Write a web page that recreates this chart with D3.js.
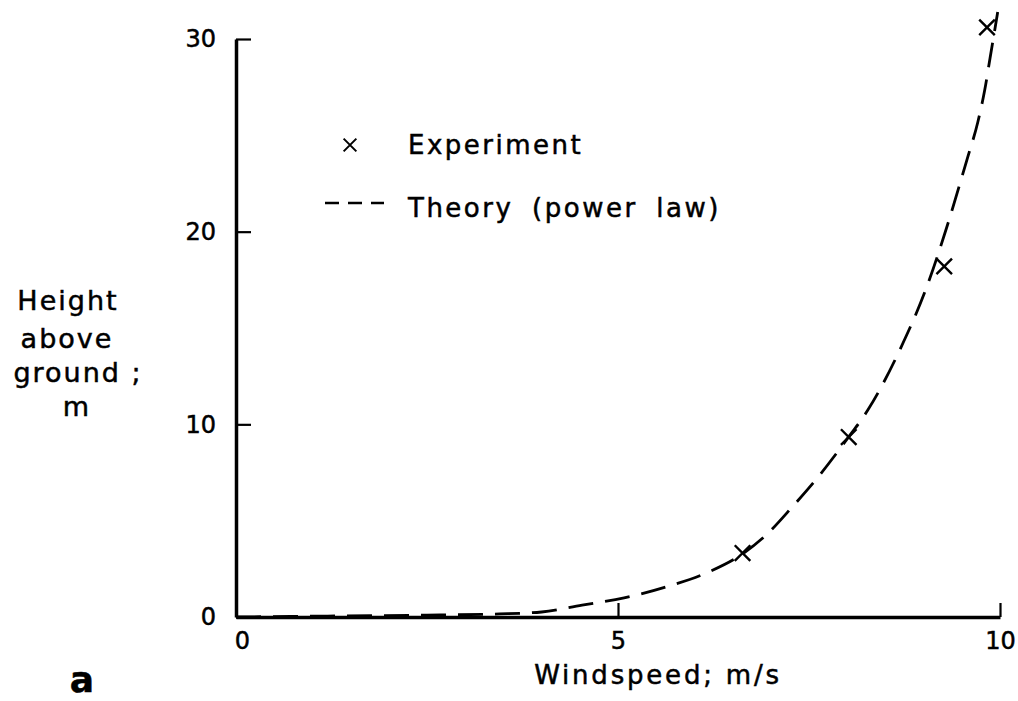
<!DOCTYPE html>
<html>
<head>
<meta charset="utf-8">
<script src="https://cdn.jsdelivr.net/npm/d3@7"></script>
<style>
  body { margin: 0; background: #fff; }
  svg { display: block; }
  text { font-family: "DejaVu Sans", sans-serif; fill: #000; stroke: #000; stroke-width: 0.5; }
</style>
</head>
<body>
<svg id="chart" width="1018" height="701"></svg>
<script>
// values
var speedTicks = [0, 5, 10];
var heightTicks = [0, 10, 20, 30];

var expSpeed = [6.63, 8.02, 9.27, 9.83];
var expHeight = [3.32, 9.34, 18.2, 30.6];

var theorySpeed = [0, 1.2, 2.5, 3.45, 4.0, 4.53, 5.08, 5.63, 6.19, 6.59, 6.94, 7.28, 7.64, 7.99, 8.27, 8.7, 9.04, 9.3, 9.57, 9.71, 9.8, 9.87, 9.97];
var theoryHeight = [0, 0.05, 0.1, 0.16, 0.26, 0.62, 0.99, 1.56, 2.34, 3.17, 4.26, 5.71, 7.37, 9.19, 10.74, 13.96, 17.12, 20.19, 23.77, 25.69, 27.35, 29.01, 31.4];

var yTitle = ["Height", "above", "ground ;", "m"];
var xTitle = "Windspeed; m/s";
var legendLabels = ["Experiment", "Theory (power law)"];
var panelLabel = "a";

var svg = d3.select("#chart");

var x = d3.scaleLinear().domain([0, 10]).range([236, 1000]);
var y = d3.scaleLinear().domain([0, 30]).range([617, 39]);

// axes, ticks pointing inward like the drawing
var yAxis = svg.append("g")
    .attr("transform", "translate(" + x(0) + ",0)")
    .call(d3.axisLeft(y)
          .tickValues(heightTicks)
          .tickSizeInner(-15)
          .tickSizeOuter(0)
          .tickPadding(20)
          .tickFormat(d3.format("d")));

var xAxis = svg.append("g")
    .attr("transform", "translate(0," + y(0) + ")")
    .call(d3.axisBottom(x)
          .tickValues(speedTicks)
          .tickSizeInner(-14)
          .tickSizeOuter(0)
          .tickPadding(15)
          .tickFormat(d3.format("d")));

[yAxis, xAxis].forEach(function(a) {
    a.select(".domain").attr("stroke", "#000").attr("stroke-width", 3.5);
    a.selectAll(".tick line").attr("stroke", "#000").attr("stroke-width", 2.2);
    a.selectAll(".tick text")
        .attr("font-size", 24)
        .attr("font-family", "DejaVu Sans, sans-serif");
});
xAxis.selectAll(".tick").filter(function(d) { return d === 0; }).select("line").remove();
xAxis.selectAll(".tick").filter(function(d) { return d === 0; }).select("text").attr("dx", 6);

// theory curve
var line = d3.line()
    .x(function(d) { return x(d[0]); })
    .y(function(d) { return y(d[1]); })
    .curve(d3.curveMonotoneX);

svg.append("path")
    .datum(d3.zip(theorySpeed, theoryHeight))
    .attr("d", line)
    .attr("fill", "none")
    .attr("stroke", "#000")
    .attr("stroke-width", 2.8)
    .attr("stroke-dasharray", "25,12");

// experiment crosses
svg.append("g")
    .selectAll("path")
    .data(d3.zip(expSpeed, expHeight))
    .enter().append("path")
    .attr("transform", function(d) { return "translate(" + x(d[0]) + "," + y(d[1]) + ") rotate(45)"; })
    .attr("d", "M-11,0L11,0M0,-11L0,11")
    .attr("stroke", "#000")
    .attr("stroke-width", 2.4)
    .attr("fill", "none");

// legend
var legend = svg.append("g");
legend.append("path")
    .attr("transform", "translate(350,145) rotate(45)")
    .attr("d", "M-9,0L9,0M0,-9L0,9")
    .attr("stroke", "#000")
    .attr("stroke-width", 2);
legend.append("line")
    .attr("x1", 325).attr("x2", 384)
    .attr("y1", 203).attr("y2", 203)
    .attr("stroke", "#000")
    .attr("stroke-width", 2.4)
    .attr("stroke-dasharray", "14,9");
legend.selectAll("text")
    .data(legendLabels)
    .enter().append("text")
    .attr("x", 408)
    .attr("y", function(d, i) { return 154 + i * 63; })
    .attr("font-size", 26)
    .attr("letter-spacing", 2.5)
    .attr("word-spacing", 8)
    .text(function(d) { return d; });

// axis titles
svg.append("text")
    .attr("text-anchor", "middle")
    .selectAll("tspan")
    .data(yTitle)
    .enter().append("tspan")
    .attr("x", function(d, i) { return [68, 67, 78, 77][i]; })
    .attr("y", function(d, i) { return [310, 348, 382, 416][i]; })
    .attr("font-size", 27)
    .attr("letter-spacing", 2)
    .text(function(d) { return d; });

svg.append("text")
    .attr("x", 658)
    .attr("y", 684)
    .attr("text-anchor", "middle")
    .attr("font-size", 26)
    .attr("letter-spacing", 2.8)
    .text(xTitle);

svg.append("text")
    .attr("x", 82)
    .attr("y", 692)
    .attr("text-anchor", "middle")
    .attr("font-size", 36)
    .attr("font-weight", "bold")
    .text(panelLabel);
</script>
</body>
</html>
